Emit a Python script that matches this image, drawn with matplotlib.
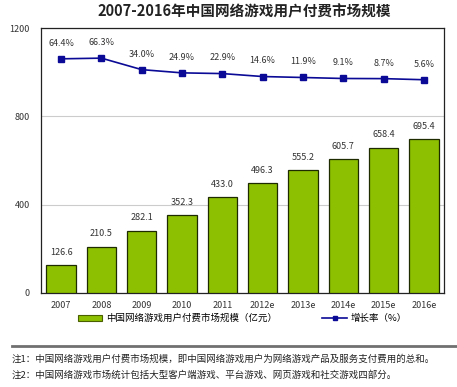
import numpy as np
import matplotlib.pyplot as plt
from matplotlib.patches import Patch
from matplotlib.lines import Line2D

plt.rcParams['font.family'] = ['Noto Sans CJK SC', 'DejaVu Sans']

years = ["2007", "2008", "2009", "2010", "2011", "2012e", "2013e", "2014e", "2015e", "2016e"]
market = [126.6, 210.5, 282.1, 352.3, 433.0, 496.3, 555.2, 605.7, 658.4, 695.4]
growth = [64.4, 66.3, 34.0, 24.9, 22.9, 14.6, 11.9, 9.1, 8.7, 5.6]

title = "2007-2016年中国网络游戏用户付费市场规模"
bar_label = "中国网络游戏用户付费市场规模（亿元）"
line_label = "增长率（%）"
notes = [
    "注1：中国网络游戏用户付费市场规模，即中国网络游戏用户为网络游戏产品及服务支付费用的总和。",
    "注2：中国网络游戏市场统计包括大型客户端游戏、平台游戏、网页游戏和社交游戏四部分。",
]

bar_color = "#8cc000"
line_color = "#0a0a96"

fig = plt.figure(figsize=(4.57, 3.87), dpi=100)
ax = fig.add_axes([0.0897, 0.2429, 0.8819, 0.6847])
x = np.arange(len(years))

ax.bar(x, market, width=0.73, color=bar_color, edgecolor="#1e2a00", linewidth=0.9, zorder=3)
for xi, v in zip(x, market):
    ax.annotate(f"{v:.1f}", (xi, v), xytext=(0, 6), textcoords="offset points",
                ha="center", va="bottom", fontsize=6.5, color="#333333")

ax.set_xlim(-0.5, len(years) - 0.5)
ax.set_ylim(0, 1200)
ax.set_yticks([0, 400, 800, 1200])
ax.set_xticks(x)
ax.set_xticklabels(years)
ax.tick_params(axis="both", length=0, labelsize=6.5, colors="#333333")
ax.tick_params(axis="y", pad=8)
ax.tick_params(axis="x", pad=6)
ax.yaxis.grid(True, color="#cccccc", linewidth=0.8, zorder=0)
for s in ax.spines.values():
    s.set_color("#222222")
    s.set_linewidth(0.9)

# growth rate on a hidden secondary axis
ax2 = ax.twinx()
ax2.plot(x, growth, color=line_color, marker="s", markersize=4.5, linewidth=1.2, zorder=4)
ax2.set_ylim(-594, 151)
ax2.set_yticks([])
for s in ax2.spines.values():
    s.set_visible(False)
for xi, g in zip(x, growth):
    ax2.annotate(f"{g:.1f}%", (xi, g), xytext=(0, 8), textcoords="offset points",
                 ha="center", va="bottom", fontsize=6.5, color="#333333")

fig.text(0.534, 0.97, title, ha="center", va="center", fontsize=10.5, fontweight="bold", color="#222222")

handles = [
    Patch(facecolor=bar_color, edgecolor="#4a6000", linewidth=0.8),
    Line2D([0], [0], color=line_color, marker="s", markersize=3.5, linewidth=1.2),
]
fig.legend(handles, [bar_label, line_label], loc="center", bbox_to_anchor=(0.53, 0.177),
           ncol=2, frameon=False, fontsize=6.8, handlelength=2.6, handleheight=0.6,
           columnspacing=4.8, handletextpad=0.4)

fig.add_artist(Line2D([0.026, 1.0], [0.106, 0.106], color="#707070", linewidth=2.0,
                      transform=fig.transFigure))

fig.text(0.026, 0.072, notes[0], ha="left", va="center", fontsize=6.8, color="#222222")
fig.text(0.026, 0.030, notes[1], ha="left", va="center", fontsize=6.8, color="#222222")

fig.savefig("out.png", dpi=100, facecolor="white")
